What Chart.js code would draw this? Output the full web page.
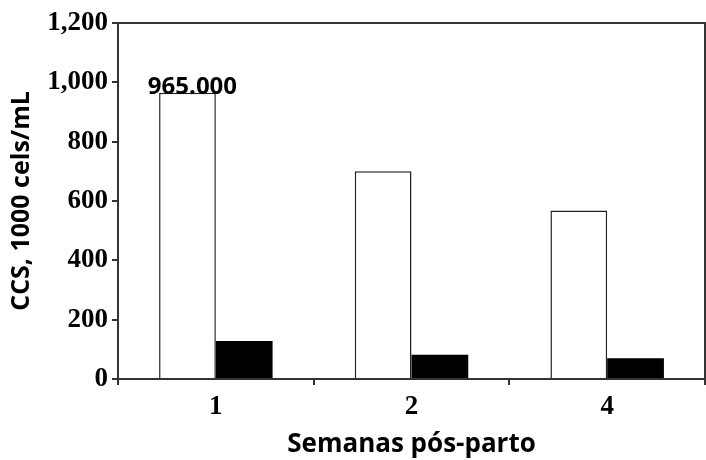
<!DOCTYPE html>
<html>
<head>
<meta charset="utf-8">
<script src="https://cdn.jsdelivr.net/npm/chart.js@4.4.0/dist/chart.umd.min.js"></script>
<style>
html,body{margin:0;padding:0;background:#fff;}
#wrap{width:706px;height:460px;}
</style>
</head>
<body>
<div id="wrap"><canvas id="c" width="706" height="460"></canvas></div>
<script>
const categories = ['1', '2', '4'];
const seriesWhite = [965, 700, 568];
const seriesBlack = [128, 82, 70];
const yTicks = [0, 200, 400, 600, 800, 1000, 1200];
const annotationText = '965.000';
const xTitle = 'Semanas pós-parto';
const yTitle = 'CCS, 1000 cels/mL';

const borderPlugin = {
  id: 'frame',
  afterDatasetsDraw(chart) {
    const {ctx, chartArea: a} = chart;
    ctx.save();
    ctx.strokeStyle = '#333';
    ctx.lineWidth = 2;
    ctx.beginPath();
    ctx.moveTo(a.left, a.top);
    ctx.lineTo(a.right, a.top);
    ctx.lineTo(a.right, a.bottom);
    ctx.stroke();
    const meta = chart.getDatasetMeta(0);
    const bar = meta.data[0];
    ctx.fillStyle = '#000';
    ctx.font = 'bold 24px "Open Sans"';
    ctx.textAlign = 'center';
    ctx.textBaseline = 'bottom';
    ctx.fillText(annotationText, bar.x + 5, bar.y + 6);
    ctx.restore();
  }
};

new Chart(document.getElementById('c'), {
  type: 'bar',
  data: {
    labels: categories,
    datasets: [
      {data: seriesWhite, backgroundColor: '#fff', borderColor: '#222', borderWidth: 1.5,
       categoryPercentage: 0.58, barPercentage: 1.0},
      {data: seriesBlack, backgroundColor: '#000', borderColor: '#000', borderWidth: 0,
       categoryPercentage: 0.58, barPercentage: 1.0}
    ]
  },
  options: {
    responsive: false,
    animation: false,
    layout: {padding: {top: 23, right: 1, left: 0, bottom: 0}},
    plugins: {legend: {display: false}, tooltip: {enabled: false}},
    scales: {
      x: {
        grid: {offset: true, drawOnChartArea: false, drawTicks: true, tickLength: 6, color: '#333', lineWidth: 2},
        border: {display: true, color: '#333', width: 2},
        ticks: {color: '#000', font: {family: '"Liberation Serif"', weight: 'bold', size: 27}, padding: 6},
        title: {display: true, text: xTitle, color: '#000', font: {family: '"Open Sans"', weight: 'bold', size: 26}, padding: {top: 4, bottom: 0}},
        afterFit(scale) { scale.height = 81; }
      },
      y: {
        min: 0, max: 1200,
        afterBuildTicks(scale) { scale.ticks = yTicks.map(v => ({value: v})); },
        grid: {drawOnChartArea: false, drawTicks: true, tickLength: 6, color: '#333', lineWidth: 2},
        border: {display: true, color: '#333', width: 2},
        ticks: {color: '#000', font: {family: '"Liberation Serif"', weight: 'bold', size: 27}, padding: 4,
          callback: v => v.toLocaleString('en-US')},
        title: {display: true, text: yTitle, color: '#000', font: {family: '"Open Sans"', weight: 'bold', size: 25}, padding: {top: 7, bottom: 8}},
        afterFit(scale) { scale.width = 118; }
      }
    }
  },
  plugins: [borderPlugin]
});
</script>
</body>
</html>
